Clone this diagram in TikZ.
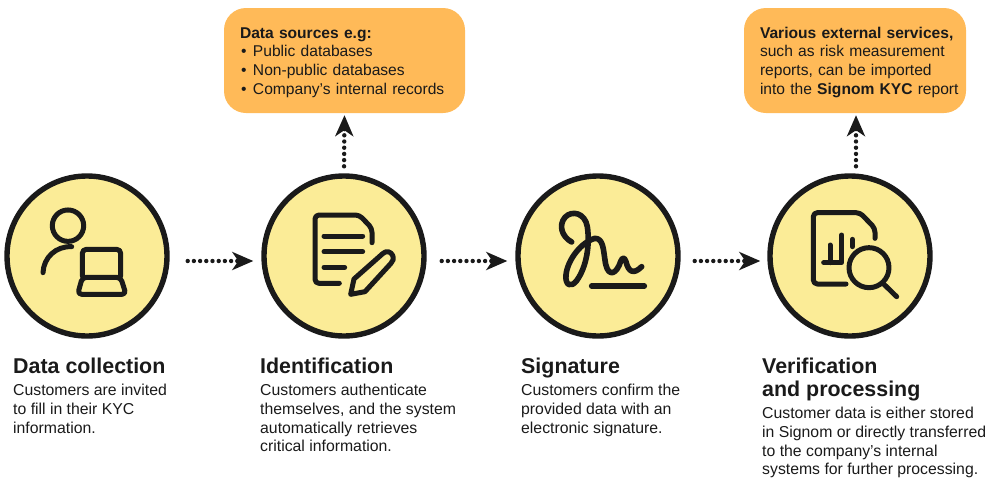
\documentclass[tikz,border=0pt]{standalone}
\usepackage{fontspec}
\setmainfont{Liberation Sans}
\usetikzlibrary{arrows.meta}
\definecolor{ink}{HTML}{1A1A1A}
\definecolor{disc}{HTML}{FBEC97}
\definecolor{note}{HTML}{FFBA58}
\newcommand{\bodyfont}{\fontsize{15.8}{18.7}\selectfont}
\newcommand{\notefont}{\fontsize{15.6}{18.7}\selectfont}
\newcommand{\headfont}{\fontsize{21.4}{23.2}\selectfont\bfseries}
\newcommand{\blt}{\makebox[13pt][l]{\hspace{1pt}\textbullet}}
\newcommand{\toppad}{\rule{0pt}{14.5pt}}
\tikzset{
  x=1pt,y=-1pt,
  stage/.style={circle,draw=ink,fill=disc,line width=5.4pt,minimum size=160pt,inner sep=0pt},
  notebox/.style={fill=note,rounded corners=22pt,minimum height=105pt,inner sep=0pt,align=left,text=ink,font=\notefont},
  flow/.style={draw=ink,line width=4.4pt,line cap=round,dash pattern=on 0pt off 6.2pt,-{Stealth[length=21pt,width=18pt,inset=6pt]}},
  icon/.style={draw=ink,line width=5pt,line cap=round,line join=round,rounded corners=4pt},
  curvy/.style={draw=ink,line width=5pt,line cap=round,line join=round},
  head/.style={anchor=north west,inner sep=0pt,align=left,text=ink,font=\headfont},
  body/.style={anchor=north west,inner sep=0pt,align=left,text=ink,font=\bodyfont},
}
\begin{document}
\begin{tikzpicture}
\useasboundingbox (0,0) rectangle (997,493);
\node[stage] (c1) at (87,256) {};
\node[stage] (c2) at (344,256) {};
\node[stage] (c3) at (598,256) {};
\node[stage] (c4) at (850,256) {};
\node[notebox,minimum width=241pt,text width=209pt] (b1) at (344.5,60.5) {\toppad\textbf{Data sources e.g:}\\\blt Public databases\\\blt Non-public databases\\\blt Company’s internal records};
\node[notebox,minimum width=222pt,text width=190pt] (b2) at (855,60.5) {\toppad\mbox{\textbf{Various external services,}}\\\mbox{such as risk measurement}\\\mbox{reports, can be imported}\\\mbox{into the \textbf{Signom KYC} report}};
% connectors
\draw[flow,shorten <=18pt,shorten >=8pt] ([yshift=-5pt]c1.east) -- ([yshift=-5pt]c2.west);
\draw[flow,shorten <=15pt,shorten >=8pt] ([yshift=-5pt]c2.east) -- ([yshift=-5pt]c3.west);
\draw[flow,shorten <=14pt,shorten >=7pt] ([yshift=-5pt]c3.east) -- ([yshift=-5pt]c4.west);
\draw[flow,shorten <=7pt,shorten >=2pt] (c2.north) -- (b1.south);
\coordinate (up4) at ([xshift=1pt]b2.south |- c4.north);
\draw[flow,shorten <=7pt,shorten >=2pt] (up4) -- ([xshift=1pt]b2.south);
% icon 1
\begin{scope}[shift={(0,170)},x=1/3*1pt,y=-1/3*1pt]
\draw[curvy] (204,167) circle (15.7pt);
\draw[curvy] (129,308) .. controls (131,262) and (168,228) .. (215,230);
\draw[icon] (247,318) -- (247,238) -- (362,238) -- (362,318);
\draw[icon] (247,322) -- (362,322) -- (378,373) -- (233,373) -- cycle;
\end{scope}
% icon 2
\begin{scope}[shift={(250,100)},x=1/3*1pt,y=-1/3*1pt]
\draw[icon] (268,550) -- (195,550) -- (195,345) -- (328,345) -- (366,385) -- (366,428);
\draw[curvy] (222,408) -- (338,408) (222,455) -- (338,455) (222,502) -- (284,502);
\draw[curvy] (302,583) -- (312,537) -- (398,461) .. controls (410,450) and (422,455) .. (428,466) .. controls (432,476) and (429,485) .. (422,491) -- (345,575) -- cycle;
\end{scope}
% icon 3
\begin{scope}[shift={(430,170)},x=1/3*1pt,y=-1/3*1pt]
\draw[curvy,line width=5.6pt] (425,216) .. controls (395,200) and (385,165) .. (405,142) .. controls (425,120) and (465,128) .. (472,170) .. controls (480,225) and (470,290) .. (440,332) .. controls (422,355) and (405,345) .. (408,315) .. controls (412,270) and (455,215) .. (495,205) .. controls (520,205) and (520,240) .. (525,270) .. controls (530,315) and (552,320) .. (568,285) .. controls (575,265) and (580,255) .. (588,275) .. controls (595,305) and (610,315) .. (635,290);
\draw[curvy,line width=5.6pt] (485,348) -- (643,348);
\end{scope}
% icon 4
\begin{scope}[shift={(760,100)},x=1/3*1pt,y=-1/3*1pt]
\draw[icon] (258,552) -- (160,552) -- (160,338) -- (300,338) -- (345,385) -- (345,415);
\draw[curvy] (191,488) -- (245,488) -- (245,405) (210,435) -- (210,488) (277,418) -- (277,440);
\draw[curvy] (327,503) circle (20pt);
\draw[curvy] (372,553) -- (410,590);
\end{scope}
% captions
\node[head] (t1) at (13,358) {Data collection};
\node[body] (d1) at (13,384) {Customers are invited\\to fill in their KYC\\information.};
\node[head] (t2) at (260,358) {Identification};
\node[body] (d2) at (260,384) {Customers authenticate\\themselves, and the system\\automatically retrieves\\critical information.};
\node[head] (t3) at (521,358) {Signature};
\node[body] (d3) at (521,384) {Customers confirm the\\provided data with an\\electronic signature.};
\node[head] (t4) at (762,358) {Verification\\and processing};
\node[body] (d4) at (762,407) {Customer data is either stored\\in Signom or directly transferred\\to the company’s internal\\systems for further processing.};
\end{tikzpicture}
\end{document}
